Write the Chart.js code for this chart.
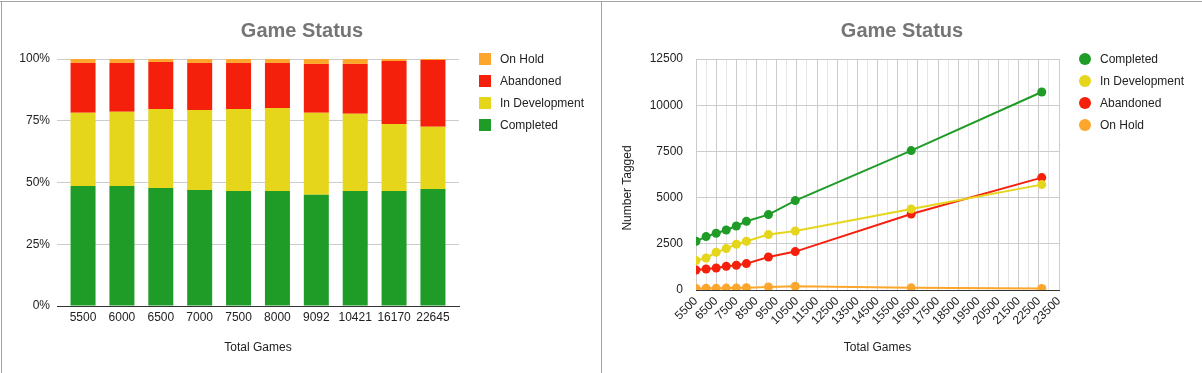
<!DOCTYPE html>
<html>
<head>
<meta charset="utf-8">
<script src="https://cdn.jsdelivr.net/npm/chart.js@4/dist/chart.umd.min.js"></script>
<style>
  html, body { margin:0; padding:0; background:#fff; }
  body { width:1202px; height:373px; position:relative; overflow:hidden; font-family:Arial, 'Liberation Sans', sans-serif; }
  canvas { position:absolute; top:0; }
  #c-status { left:0; }
  #c-tagged { left:601px; }
  .rule { position:absolute; background:#a3a3a3; }
  .ctitle { position:absolute; top:18px; width:600px; text-align:center; font-size:20px; line-height:24px; font-weight:bold; color:#757575; }
  .ytitle { position:absolute; left:577px; top:181px; width:100px; height:14px; line-height:14px; text-align:center;
            font-size:12px; color:#222; transform:rotate(-90deg); white-space:nowrap; }
  .legend { position:absolute; top:52px; font-size:12px; color:#222; }
  .legend div { position:relative; height:22px; line-height:14px; padding-left:21px; white-space:nowrap; }
  .legend i { position:absolute; left:0; top:1px; width:12px; height:12px; }
  .legend.dots i { border-radius:50%; }
</style>
</head>
<body>
<canvas id="c-status" width="600" height="373"></canvas>
<canvas id="c-tagged" width="601" height="373"></canvas>
<div class="rule" style="left:0;top:1px;width:1202px;height:1px"></div>
<div class="rule" style="left:1px;top:1px;width:1px;height:372px"></div>
<div class="rule" style="left:601px;top:1px;width:1px;height:372px"></div>
<div class="ctitle" style="left:2px">Game Status</div>
<div class="ctitle" style="left:602px">Game Status</div>
<div class="ytitle">Number Tagged</div>
<div class="legend" id="lg-status" style="left:479px"></div>
<div class="legend dots" id="lg-tagged" style="left:1079px"></div>
<script>
// Game Status — share of each status per total game count, and raw tag counts
const totalGames = [5500, 6000, 6500, 7000, 7500, 8000, 9092, 10421, 16170, 22645];
const totalLabels = totalGames.map(String);

// percent stack (left chart)
const pctCompleted = [48.6, 48.6, 47.8, 47.0, 46.6, 46.6, 45.0, 46.6, 46.6, 47.4];
const pctInDev     = [29.6, 30.0, 32.0, 32.4, 33.2, 33.6, 33.2, 31.2, 27.1, 25.2];
const pctAbandoned = [20.2, 19.8, 19.0, 19.0, 18.6, 18.2, 19.8, 20.2, 25.5, 27.0];
const pctOnHold    = [1.6, 1.6, 1.2, 1.6, 1.6, 1.6, 2.0, 2.0, 0.8, 0.4];

// counts (right chart)
const numCompleted = [2635, 2890, 3068, 3247, 3463, 3717, 4080, 4838, 7543, 10714];
const numInDev     = [1591, 1732, 2040, 2240, 2473, 2635, 2998, 3193, 4383, 5703];
const numAbandoned = [1082, 1136, 1190, 1282, 1337, 1428, 1786, 2078, 4113, 6082];
const numOnHold    = [85, 90, 90, 105, 110, 120, 165, 200, 115, 80];

const pctTicks = [0, 25, 50, 75, 100];
const xTickMin = 5500, xTickMax = 23500, xTickStep = 500;
const yTickMax = 12500, yTickStep = 2500;

const COLORS = { completed:'#1e9c27', inDev:'#e5d51b', abandoned:'#f5200c', onHold:'#fca62b' };
const FONT = "Arial, 'Liberation Sans', sans-serif";
const TEXT = '#222222';

Chart.defaults.font.family = FONT;
Chart.defaults.font.size = 12;
Chart.defaults.color = TEXT;
Chart.defaults.animation = false;
Chart.defaults.devicePixelRatio = 1;

function fixWidth(w) { return s => { s.width = w; }; }
function fixHeight(h) { return s => { s.height = h; }; }

// bars sit on index positions; a little slack at both ends like the original plot
const barSlack = 0.67;
const idx = arr => arr.map((v, i) => ({ x: i, y: v }));

new Chart(document.getElementById('c-status'), {
  type: 'bar',
  data: {
    datasets: [
      { label:'Completed', data:idx(pctCompleted), backgroundColor:COLORS.completed },
      { label:'In Development', data:idx(pctInDev), backgroundColor:COLORS.inDev },
      { label:'Abandoned', data:idx(pctAbandoned), backgroundColor:COLORS.abandoned },
      { label:'On Hold', data:idx(pctOnHold), backgroundColor:COLORS.onHold }
    ]
  },
  options: {
    responsive: false,
    layout: { padding: { left:0, right:141, top:59, bottom:0 } },
    datasets: { bar: { categoryPercentage:1, barPercentage:0.643, borderWidth:0 } },
    plugins: { legend:{ display:false }, tooltip:{ enabled:false } },
    scales: {
      x: {
        type: 'linear', stacked: true, offset: false,
        min: -barSlack, max: totalLabels.length - 1 + barSlack,
        afterBuildTicks: s => { s.ticks = totalLabels.map((_, i) => ({ value:i })); },
        grid: { display:false, drawTicks:false },
        border: { display:true, color:'#333333' },
        ticks: { padding:4, color:TEXT, maxRotation:0, autoSkip:false, callback: v => totalLabels[v] },
        title: { display:true, text:'Total Games', color:TEXT, padding:{ top:0, bottom:18 } },
        afterFit: fixHeight(67)
      },
      y: {
        stacked: true, min:0, max:100,
        afterBuildTicks: s => { s.ticks = pctTicks.map(v => ({ value:v })); },
        grid: { color:'#cccccc', drawTicks:false },
        border: { display:false },
        ticks: { padding:7, color:TEXT, callback: v => v + '%' },
        afterFit: fixWidth(57)
      }
    }
  }
});

const pts = arr => arr.map((v, i) => ({ x: totalGames[i], y: v }));
const lineSet = (label, arr, color) => ({
  label, data: pts(arr), borderColor: color, backgroundColor: color,
  borderWidth: 2, pointRadius: 4.5, pointBorderWidth: 0, tension: 0
});

new Chart(document.getElementById('c-tagged'), {
  type: 'line',
  data: {
    datasets: [
      lineSet('Completed', numCompleted, COLORS.completed),
      lineSet('In Development', numInDev, COLORS.inDev),
      lineSet('Abandoned', numAbandoned, COLORS.abandoned),
      lineSet('On Hold', numOnHold, COLORS.onHold)
    ]
  },
  options: {
    responsive: false,
    layout: { padding: { left:0, right:143, top:59, bottom:0 } },
    plugins: { legend:{ display:false }, tooltip:{ enabled:false } },
    scales: {
      x: {
        type: 'linear', min:xTickMin, max:xTickMax,
        grid: {
          drawTicks:false,
          color: c => ((c.tick.value - xTickMin) % 1000 === 0 ? '#cccccc' : '#e6e6e6')
        },
        border: { display:true, color:'#333333' },
        ticks: {
          stepSize:xTickStep, autoSkip:false, minRotation:45, maxRotation:45, padding:4, color:TEXT,
          callback: v => ((v - xTickMin) % 1000 === 0 ? String(v) : '')
        },
        title: { display:true, text:'Total Games', color:TEXT, padding:{ top:0, bottom:18 } },
        afterFit: fixHeight(83)
      },
      y: {
        min:0, max:yTickMax,
        grid: { color:'#cccccc', drawTicks:false },
        border: { display:false },
        ticks: { stepSize:yTickStep, padding:13, color:TEXT, callback: v => String(v) },
        afterFit: fixWidth(95)
      }
    }
  }
});

// legends, kept in the order the reference lists them
const legendStatus = [
  ['On Hold', COLORS.onHold], ['Abandoned', COLORS.abandoned],
  ['In Development', COLORS.inDev], ['Completed', COLORS.completed]
];
const legendTagged = [
  ['Completed', COLORS.completed], ['In Development', COLORS.inDev],
  ['Abandoned', COLORS.abandoned], ['On Hold', COLORS.onHold]
];
function fillLegend(id, items) {
  document.getElementById(id).innerHTML = items
    .map(([t, c]) => `<div><i style="background:${c}"></i>${t}</div>`).join('');
}
fillLegend('lg-status', legendStatus);
fillLegend('lg-tagged', legendTagged);
</script>
</body>
</html>
